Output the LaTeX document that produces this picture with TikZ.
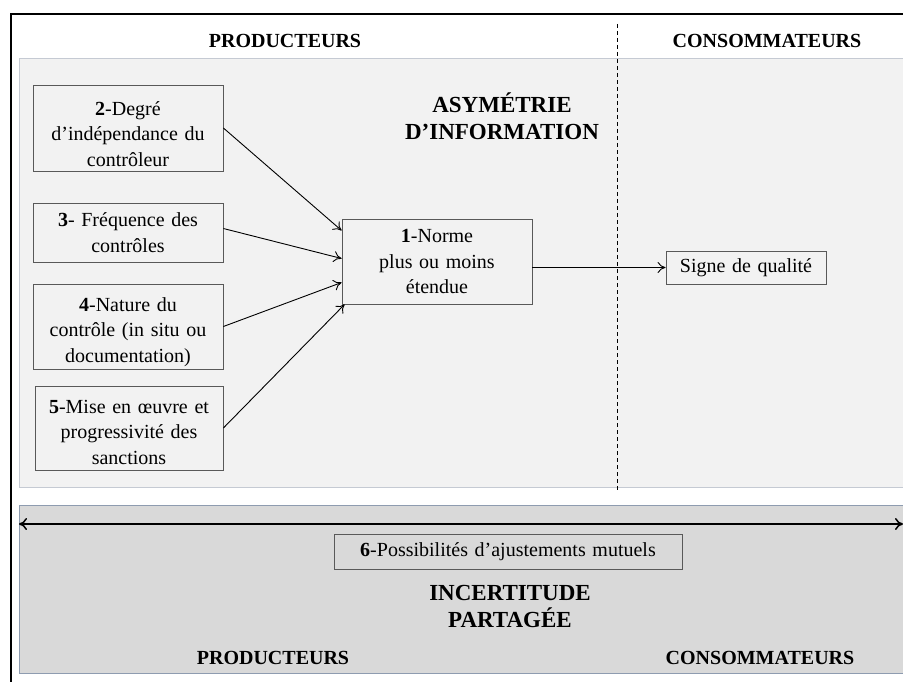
\documentclass[tikz,border=0pt]{standalone}
\usepackage{fontspec}
\setmainfont{Liberation Serif}
\usetikzlibrary{arrows.meta}
\definecolor{panel}{HTML}{F2F2F2}
\definecolor{panelline}{HTML}{C5CAD3}
\definecolor{darkpanel}{HTML}{D9D9D9}
\definecolor{darkline}{HTML}{8E9CB0}
\definecolor{boxline}{HTML}{595959}
\begin{document}
\begin{tikzpicture}[x=1pt, y=-1pt]
		\tikzset{bx/.style={draw=boxline, line width=0.8pt, fill=panel, minimum width=190pt, text width=182pt, inner sep=4pt, align=center, font=\fontsize{20}{25.5}\selectfont},
			lbl/.style={font=\fontsize{20}{24}\selectfont\bfseries},
			ttl/.style={font=\fontsize{23}{27}\selectfont\bfseries, align=center},
			arr/.style={-{To[length=8pt, width=11pt]}, line width=0.9pt}};

		\useasboundingbox (0,0) rectangle (903,682);

		% backgrounds
		\fill[panel] (19,59) rectangle (903,487);
		\draw[panelline, line width=1pt] (903,59) -- (19,59) -- (19,487) -- (903,487);
		\fill[darkpanel] (19,505) rectangle (903,673);
		\draw[darkline, line width=1pt] (903,505) -- (19,505) -- (19,673) -- (903,673);
		\draw[line width=1.6pt] (903,14) -- (11,14) -- (11,682);
		\draw[dashed, dash pattern=on 4pt off 3pt, line width=0.8pt] (617,24) -- (617,490);

		\node[lbl] (prodh) at (285,41) {PRODUCTEURS};
		\node[lbl] (consh) at (767,41) {CONSOMMATEURS};
		\node[ttl] (asym) at (502,116) {ASYMÉTRIE\\D’INFORMATION};

		\node[bx, minimum height=86pt, text height=26pt, inner ysep=1pt] (2) at (128,128) {\textbf{2}-Degré\\d’indépendance du\\contrôleur};
		\node[bx, minimum height=59pt] (3) at (128,232.5) {\textbf{3}- Fréquence des\\contrôles};
		\node[bx, minimum height=85pt, text height=25pt, inner ysep=1pt] (4) at (128,326.5) {\textbf{4}-Nature du\\contrôle (in situ ou\\documentation)};
		\node[bx, minimum width=188pt, text width=180pt, minimum height=84pt, text height=22pt, inner ysep=1pt] (5) at (129,428) {\textbf{5}-Mise en œuvre et\\progressivité des\\sanctions};
		\node[bx, minimum height=85pt] (1) at (437,261.5) {\textbf{1}-Norme\\plus ou moins\\étendue};
		\node[bx, minimum width=160pt, text width=150pt, minimum height=33pt] (sq) at (746,267.5) {Signe de qualité};

		\draw[arr] (2.east) to ([yshift=31pt]1.west);
		\draw[arr] ([yshift=4pt]3.east) to ([yshift=3pt]1.west);
		\draw[arr] (4.east) to ([yshift=-21pt]1.west);
		\draw[arr] (5.east) to ([xshift=3pt]1.south west);
		\draw[arr] (1.east |- sq.west) to (sq.west);

		\coordinate (l) at (19,524);
		\coordinate (r) at (903,524);
		\draw[{To[length=8pt, width=12pt]}-{To[length=8pt, width=12pt]}, line width=1.5pt] (l) to (r);

		\node[bx, fill=darkpanel, minimum width=346pt, text width=340pt, minimum height=35pt] (6) at (508,551.5) {\textbf{6}-Possibilités d’ajustements mutuels};
		\node[ttl] (inc) at (510,606.5) {INCERTITUDE\\PARTAGÉE};
		\node[lbl] (prodb) at (273,657.5) {PRODUCTEURS};
		\node[lbl] (consb) at (760,657.5) {CONSOMMATEURS};

	\end{tikzpicture}
\end{document}
